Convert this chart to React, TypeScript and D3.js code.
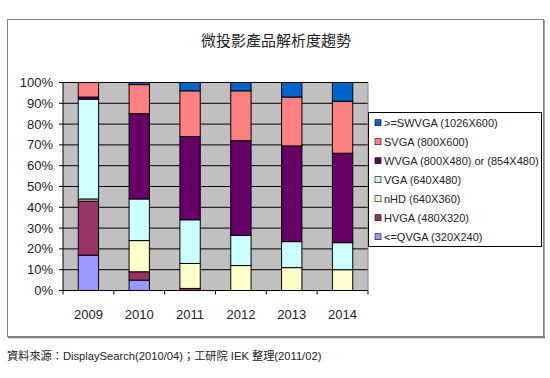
import React from "react";
import * as d3 from "d3";

const years = ["2009", "2010", "2011", "2012", "2013", "2014"];
const seriesNames = [
  "<=QVGA (320X240)",
  "HVGA (480X320)",
  "nHD (640X360)",
  "VGA (640X480)",
  "WVGA (800X480) or (854X480)",
  "SVGA (800X600)",
  ">=SWVGA (1026X600)",
];
const colors = ["#9999FF", "#993366", "#FFFFCC", "#CCFFFF", "#660066", "#FF8080", "#0066CC"];
const qvga = [17, 5, 0, 0, 0, 0];
const hvga = [26, 4, 1, 0, 0, 0];
const nhd = [1, 15, 12, 12, 11, 10];
const vga = [48, 20, 21, 14.5, 12.5, 13];
const wvga = [1, 41, 40, 45.5, 46, 43];
const svga = [7, 14, 22, 24, 23.5, 25];
const swvga = [0, 1, 4, 4, 7, 9];
const yTicks = [0, 10, 20, 30, 40, 50, 60, 70, 80, 90, 100];

const title = "微投影產品解析度趨勢";
const source = "資料來源：DisplaySearch(2010/04)；工研院 IEK 整理(2011/02)";

export default function App() {
  const W = 550, H = 378;
  const left = 63, right = 368, top = 82.5, bottom = 290.5;
  const x = d3.scaleBand().domain(years).range([left, right]).paddingInner(0.6).paddingOuter(0.3);
  const y = d3.scaleLinear().domain([0, 100]).range([bottom, top]);
  const rows = years.map((yr, i) => ({
    year: yr,
    v: [qvga[i], hvga[i], nhd[i], vga[i], wvga[i], svga[i], swvga[i]],
  }));
  const stack = d3.stack<any, number>().keys(d3.range(7) as any).value((d: any, k: any) => d.v[k]);
  const stacked = stack(rows as any);
  const band = (right - left) / years.length;
  const font = "Arial, 'Liberation Sans', 'Noto Sans CJK TC', sans-serif";
  const legendOrder = [6, 5, 4, 3, 2, 1, 0];

  return (
    <svg width={W} height={H} style={{ position: "absolute", left: 0, top: 0 }} fontFamily={font}>
      <rect x={0} y={0} width={W} height={H} fill="#fff" />
      <rect x={7.5} y={19.5} width={536} height={317} fill="#fff" stroke="#808080" strokeWidth={1} />
      <line x1={544} y1={20} x2={544} y2={338} stroke="#808080" strokeWidth={1.5} />
      <line x1={8} y1={337.5} x2={545} y2={337.5} stroke="#808080" strokeWidth={1.5} />
      <text x={276} y={46} textAnchor="middle" fontSize={15} fill="#222"
        fontFamily="'Noto Sans CJK TC', sans-serif">{title}</text>
      <rect x={left} y={top} width={right - left} height={bottom - top} fill="#C0C0C0" />
      {yTicks.map((t) => (
        <g key={t}>
          <line x1={left} x2={right} y1={y(t)} y2={y(t)} stroke="#000" strokeWidth={1} />
          <line x1={left - 4} x2={left} y1={y(t)} y2={y(t)} stroke="#000" />
          <text x={53} y={y(t) + 4.5} textAnchor="end" fontSize={13} fill="#222">{t}%</text>
        </g>
      ))}
      <line x1={left} x2={left} y1={top} y2={bottom} stroke="#000" />
      <line x1={right} x2={right} y1={top} y2={bottom} stroke="#808080" />
      {d3.range(years.length + 1).map((i) => (
        <line key={i} x1={left + i * band} x2={left + i * band} y1={bottom} y2={bottom + 4} stroke="#000" />
      ))}
      {stacked.map((s, si) => (
        <g key={si} fill={colors[si]}>
          {s.map((d: any, i) => (
            d[1] - d[0] > 0 ? (
              <rect key={i} x={x(years[i])} width={x.bandwidth()} y={y(d[1])}
                height={y(d[0]) - y(d[1])} stroke="#000" strokeWidth={1} />
            ) : null
          ))}
        </g>
      ))}
      {years.map((yr) => (
        <text key={yr} x={(x(yr) as number) + x.bandwidth() / 2} y={319} textAnchor="middle" fontSize={13} fill="#222">{yr}</text>
      ))}
      <rect x={368.5} y={112.5} width={173} height={134} fill="#fff" stroke="#000" strokeWidth={1} />
      {legendOrder.map((si, j) => (
        <g key={si} transform={`translate(375, ${122.7 + j * 19})`}>
          <rect x={0} y={-3} width={6} height={6} fill={colors[si]} stroke="#000" strokeWidth={0.6} />
          <text x={9} y={4} fontSize={11} fill="#222">{seriesNames[si]}</text>
        </g>
      ))}
      <text x={7} y={360} fontSize={11.2} fill="#222"
        fontFamily="Arial, 'Liberation Sans', 'Noto Sans CJK TC', sans-serif">{source}</text>
    </svg>
  );
}
